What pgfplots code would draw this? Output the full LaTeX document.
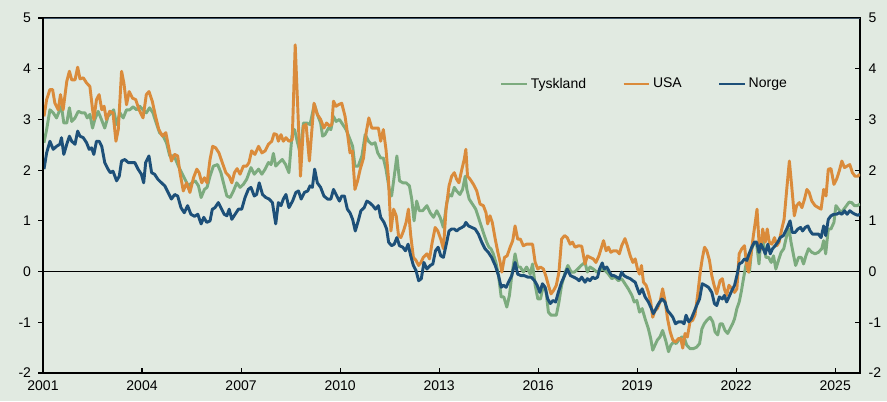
\documentclass[border=0pt]{standalone}
\usepackage{fontspec}
\setmainfont{Liberation Sans}
\usepackage{pgfplots}
\pgfplotsset{compat=1.18}
\definecolor{bg}{HTML}{E1EAE1}
\definecolor{tys}{HTML}{7CAB7E}
\definecolor{usa}{HTML}{DA8B3B}
\definecolor{nor}{HTML}{1D5079}
\definecolor{topline}{HTML}{3E5468}
\begin{document}
\begin{tikzpicture}
\fill[bg] (0,0) rectangle (665.25pt,300.75pt);
\useasboundingbox (0,0) rectangle (665.25pt,300.75pt);
\pgfplotsset{
  common/.style={
    at={(32.25pt,21pt)}, anchor=south west,
    width=612.75pt, height=266.25pt, scale only axis,
    xmin=2001, xmax=2025.75, ymin=-2, ymax=5,
    xtick={2001,2004,...,2025}, ytick={-2,-1,...,5},
    /pgf/number format/assume math mode=true,
    /pgf/number format/1000 sep={},
    tick label style={font=\fontsize{10.5}{12}\selectfont, black},
    major tick length=3.5pt,
    tick style={black, line width=0.8pt},
    axis line style={black, line width=1pt},
  }
}
\begin{axis}[common,
  tick align=inside,
  xtick pos=bottom, ytick pos=right, yticklabel pos=right,
  yticklabel style={xshift=3pt},
  xticklabel style={yshift=-2pt},
  legend style={at={(0.554,0.814)}, anchor=west, draw=none, fill=none,
    font=\fontsize{10.5}{12}\selectfont, legend columns=3,
    /tikz/every even column/.append style={column sep=25pt},
    nodes={inner xsep=2pt}},
  legend image code/.code={\draw[#1] (0pt,0pt) -- (19pt,0pt);},
  every axis plot/.append style={line width=2.2pt, line join=round},
]
\draw[black, line width=0.8pt] (axis cs:2001,0) -- (axis cs:2025.75,0);
\addplot[tys] coordinates {
(2001.03,2.54)(2001.11,2.80)(2001.21,3.19)(2001.31,3.13)(2001.41,3.03)(2001.51,3.19)(2001.56,3.26)(2001.63,2.93)(2001.72,2.93)(2001.80,3.23)(2001.87,2.96)(2001.97,3.03)
(2002.07,3.16)(2002.17,3.13)(2002.27,3.13)(2002.34,3.03)(2002.42,3.10)(2002.50,2.83)(2002.57,3.00)(2002.67,3.16)(2002.77,3.00)(2002.87,2.83)(2002.97,3.06)
(2003.07,3.13)(2003.14,3.19)(2003.23,2.90)(2003.33,3.13)(2003.43,3.03)(2003.53,3.19)(2003.63,3.19)(2003.73,3.25)(2003.83,3.19)(2003.93,3.26)
(2004.03,3.19)(2004.13,3.13)(2004.23,3.23)(2004.33,3.13)(2004.43,2.93)(2004.53,2.74)(2004.64,2.67)(2004.74,2.54)(2004.84,2.28)(2004.94,2.28)
(2005.00,2.24)(2005.10,2.08)(2005.20,1.95)(2005.30,1.82)(2005.40,1.69)(2005.51,1.75)(2005.61,1.79)(2005.71,1.69)(2005.79,1.46)(2005.89,1.62)(2005.97,1.66)
(2006.06,1.88)(2006.16,2.08)(2006.29,2.11)(2006.39,1.95)(2006.49,1.69)(2006.57,1.49)(2006.67,1.46)(2006.77,1.59)(2006.87,1.75)(2006.97,1.66)
(2007.07,1.72)(2007.17,1.82)(2007.30,2.05)(2007.40,1.92)(2007.53,2.02)(2007.63,1.92)(2007.73,2.02)(2007.83,2.15)(2007.91,2.11)(2007.98,2.33)
(2008.05,2.08)(2008.15,2.15)(2008.25,2.21)(2008.35,2.11)(2008.45,1.95)(2008.54,2.67)(2008.62,2.80)(2008.70,2.57)(2008.79,2.34)(2008.89,2.93)(2008.99,2.93)
(2009.09,2.90)(2009.22,3.30)(2009.31,3.10)(2009.41,2.93)(2009.47,2.67)(2009.54,2.70)(2009.65,2.83)(2009.72,2.80)(2009.80,3.06)(2009.88,2.96)(2009.98,3.00)
(2010.08,2.90)(2010.18,2.80)(2010.28,2.64)(2010.38,2.47)(2010.45,2.08)(2010.55,2.08)(2010.66,2.28)(2010.76,2.70)(2010.86,2.57)(2010.96,2.51)
(2011.06,2.54)(2011.14,2.34)(2011.23,2.24)(2011.31,2.24)(2011.39,2.02)(2011.49,1.62)(2011.56,1.49)(2011.64,1.88)(2011.72,2.28)(2011.80,1.79)(2011.90,1.75)
(2012.00,1.75)(2012.10,1.69)(2012.17,1.43)(2012.24,1.00)(2012.32,1.39)(2012.40,1.20)(2012.50,1.20)(2012.63,1.30)(2012.73,1.16)(2012.83,1.07)(2012.93,1.20)
(2013.03,1.07)(2013.13,0.87)(2013.23,1.35)(2013.30,1.52)(2013.38,1.49)(2013.46,1.66)(2013.53,1.59)(2013.63,1.52)(2013.71,1.62)(2013.79,1.88)(2013.84,1.62)(2013.91,1.43)
(2014.01,1.33)(2014.11,1.23)(2014.19,1.07)(2014.29,0.87)(2014.37,0.71)(2014.44,0.58)(2014.51,0.48)(2014.57,0.45)(2014.64,0.35)(2014.72,0.18)(2014.80,-0.08)(2014.88,-0.50)(2014.96,-0.50)
(2015.05,-0.70)(2015.13,-0.47)(2015.20,-0.08)(2015.30,0.35)(2015.38,0.09)(2015.46,0.09)(2015.55,-0.01)(2015.65,0.09)(2015.76,-0.05)(2015.83,0.15)(2015.91,-0.27)(2015.99,-0.54)
(2016.07,-0.54)(2016.16,-0.27)(2016.23,-0.34)(2016.31,-0.80)(2016.39,-0.86)(2016.47,-0.86)(2016.55,-0.86)(2016.63,-0.60)(2016.71,-0.27)(2016.82,-0.01)(2016.90,0.12)
(2017.00,-0.01)(2017.10,-0.01)(2017.20,0.05)(2017.30,0.12)(2017.42,0.18)(2017.49,-0.01)(2017.57,0.09)(2017.67,0.05)(2017.78,-0.01)(2017.86,0.02)(2017.94,0.05)
(2018.03,0.02)(2018.13,-0.05)(2018.23,-0.14)(2018.33,-0.11)(2018.43,-0.18)(2018.53,-0.14)(2018.63,-0.24)(2018.73,-0.34)(2018.84,-0.47)(2018.91,-0.60)(2018.99,-0.57)
(2019.07,-0.80)(2019.15,-0.73)(2019.24,-0.93)(2019.34,-1.13)(2019.41,-1.32)(2019.47,-1.55)(2019.54,-1.45)(2019.61,-1.35)(2019.69,-1.29)(2019.77,-1.16)(2019.86,-1.35)(2019.95,-1.58)
(2020.02,-1.45)(2020.10,-1.39)(2020.18,-1.42)(2020.26,-1.35)(2020.35,-1.29)(2020.42,-1.29)(2020.50,-1.45)(2020.60,-1.52)(2020.70,-1.52)(2020.80,-1.49)(2020.89,-1.42)(2020.96,-1.13)
(2021.03,-1.03)(2021.11,-0.96)(2021.21,-0.90)(2021.29,-0.99)(2021.36,-1.19)(2021.44,-1.25)(2021.51,-1.03)(2021.58,-1.03)(2021.66,-1.16)(2021.74,-1.22)(2021.81,-1.13)(2021.89,-1.03)(2021.95,-0.93)
(2022.02,-0.73)(2022.09,-0.60)(2022.15,-0.41)(2022.22,-0.14)(2022.29,0.12)(2022.35,0.28)(2022.40,-0.01)(2022.47,0.45)(2022.55,0.58)(2022.62,0.54)(2022.69,0.15)(2022.75,0.64)(2022.82,0.58)(2022.90,0.28)(2022.98,0.28)
(2023.06,0.18)(2023.13,0.31)(2023.20,0.05)(2023.28,0.22)(2023.36,0.38)(2023.44,0.45)(2023.53,0.71)(2023.60,0.84)(2023.66,0.58)(2023.74,0.31)(2023.80,0.12)(2023.89,0.28)(2023.97,0.28)
(2024.04,0.15)(2024.11,0.31)(2024.19,0.45)(2024.29,0.38)(2024.39,0.35)(2024.49,0.38)(2024.59,0.45)(2024.65,0.61)(2024.71,0.35)(2024.79,0.84)(2024.87,0.84)(2024.96,0.97)
(2025.02,1.30)(2025.10,1.23)(2025.18,1.16)(2025.26,1.23)(2025.34,1.30)(2025.42,1.37)(2025.50,1.36)(2025.58,1.30)(2025.66,1.30)(2025.75,1.33)
};
\addlegendentry{Tyskland}
\addplot[usa] coordinates {
(2001.03,3.06)(2001.11,3.39)(2001.21,3.59)(2001.29,3.59)(2001.36,3.32)(2001.46,3.19)(2001.53,3.49)(2001.61,3.19)(2001.72,3.75)(2001.80,3.95)(2001.87,3.78)(2001.97,3.78)
(2002.05,4.03)(2002.12,3.80)(2002.22,3.82)(2002.32,3.72)(2002.42,3.65)(2002.49,3.26)(2002.54,3.00)(2002.62,3.39)(2002.70,3.49)(2002.78,3.19)(2002.85,3.26)(2002.92,3.00)
(2003.02,3.16)(2003.12,3.13)(2003.21,2.57)(2003.28,2.80)(2003.38,3.95)(2003.45,3.72)(2003.53,3.29)(2003.61,3.55)(2003.71,3.42)(2003.81,3.39)(2003.91,3.19)
(2004.03,3.03)(2004.13,3.49)(2004.21,3.55)(2004.31,3.36)(2004.41,3.06)(2004.51,2.80)(2004.62,2.67)(2004.72,2.74)(2004.82,2.41)(2004.89,2.18)(2004.99,2.31)
(2005.08,2.28)(2005.15,1.95)(2005.25,1.59)(2005.35,1.75)(2005.45,1.56)(2005.56,1.85)(2005.66,2.02)(2005.73,1.95)(2005.81,1.75)(2005.89,1.85)(2005.97,1.75)
(2006.06,2.21)(2006.14,2.47)(2006.23,2.44)(2006.33,2.34)(2006.43,2.15)(2006.54,1.95)(2006.64,1.88)(2006.72,1.75)(2006.80,1.95)(2006.88,2.03)(2006.97,1.92)
(2007.07,2.08)(2007.17,2.08)(2007.24,2.15)(2007.32,2.38)(2007.42,2.31)(2007.53,2.47)(2007.63,2.34)(2007.73,2.38)(2007.83,2.51)(2007.93,2.57)
(2008.00,2.72)(2008.08,2.70)(2008.13,2.57)(2008.21,2.70)(2008.28,2.57)(2008.36,2.64)(2008.45,2.57)(2008.55,2.60)(2008.64,4.47)(2008.72,3.19)(2008.80,1.88)(2008.89,2.87)(2008.97,2.90)
(2009.07,2.18)(2009.21,3.32)(2009.31,3.10)(2009.41,3.00)(2009.51,2.83)(2009.59,2.93)(2009.68,2.87)(2009.75,2.90)(2009.80,3.36)(2009.88,3.26)(2009.95,3.29)
(2010.05,3.32)(2010.15,3.06)(2010.22,2.74)(2010.30,2.34)(2010.37,2.38)(2010.45,1.62)(2010.53,1.79)(2010.61,2.02)(2010.71,2.24)(2010.79,2.74)(2010.87,3.03)(2010.96,2.83)
(2011.06,2.83)(2011.16,2.83)(2011.23,2.57)(2011.31,2.80)(2011.39,2.41)(2011.46,1.88)(2011.54,0.80)(2011.62,1.23)(2011.70,1.10)(2011.77,0.71)(2011.84,0.67)(2011.92,0.80)
(2012.00,0.97)(2012.07,1.23)(2012.14,0.71)(2012.22,0.28)(2012.30,0.22)(2012.38,0.12)(2012.45,0.18)(2012.52,0.28)(2012.63,0.35)(2012.71,0.25)(2012.78,0.54)(2012.88,0.87)(2012.96,0.80)
(2013.05,0.64)(2013.13,0.45)(2013.21,1.23)(2013.30,1.69)(2013.38,1.88)(2013.46,1.95)(2013.53,1.82)(2013.60,1.75)(2013.69,2.02)(2013.76,2.21)(2013.81,2.41)(2013.86,1.88)(2013.94,1.82)
(2014.04,1.72)(2014.14,1.59)(2014.24,1.33)(2014.34,1.30)(2014.42,1.16)(2014.47,0.94)(2014.54,1.10)(2014.61,0.97)(2014.70,0.64)(2014.78,0.38)(2014.85,0.18)(2014.90,-0.01)(2014.98,0.28)
(2015.06,0.31)(2015.15,0.48)(2015.23,0.61)(2015.30,0.90)(2015.38,0.64)(2015.46,0.64)(2015.55,0.51)(2015.65,0.54)(2015.76,0.54)(2015.83,0.54)(2015.91,0.18)(2015.99,0.05)
(2016.07,0.09)(2016.16,0.05)(2016.23,-0.08)(2016.31,-0.27)(2016.39,-0.44)(2016.47,-0.37)(2016.55,-0.27)(2016.63,-0.01)(2016.71,0.64)(2016.80,0.71)(2016.88,0.67)(2016.97,0.54)
(2017.04,0.58)(2017.12,0.48)(2017.22,0.51)(2017.32,0.50)(2017.42,0.15)(2017.49,0.31)(2017.57,0.28)(2017.67,0.25)(2017.75,0.18)(2017.84,0.31)(2017.92,0.48)(2017.98,0.61)
(2018.06,0.41)(2018.13,0.48)(2018.20,0.38)(2018.28,0.41)(2018.38,0.41)(2018.46,0.35)(2018.53,0.51)(2018.63,0.65)(2018.70,0.51)(2018.79,0.31)(2018.87,0.18)(2018.94,0.25)
(2019.01,0.05)(2019.07,-0.05)(2019.13,0.12)(2019.19,-0.21)(2019.27,-0.27)(2019.34,-0.41)(2019.41,-0.60)(2019.47,-0.90)(2019.54,-0.77)(2019.61,-0.73)(2019.69,-0.60)(2019.77,-0.34)(2019.85,-0.60)(2019.92,-0.93)
(2020.00,-1.19)(2020.08,-1.35)(2020.16,-1.39)(2020.25,-1.32)(2020.32,-1.32)(2020.38,-1.51)(2020.45,-1.22)(2020.52,-1.29)(2020.60,-0.99)(2020.68,-0.96)(2020.75,-0.86)(2020.83,-0.47)(2020.91,-0.01)(2020.97,0.25)
(2021.04,0.48)(2021.11,0.41)(2021.19,0.22)(2021.26,-0.08)(2021.33,-0.27)(2021.41,-0.44)(2021.51,-0.18)(2021.58,-0.14)(2021.64,-0.34)(2021.71,-0.47)(2021.78,-0.27)(2021.87,-0.34)(2021.95,-0.41)
(2022.02,-0.34)(2022.09,0.35)(2022.17,0.45)(2022.25,0.51)(2022.32,0.12)(2022.37,-0.01)(2022.44,0.31)(2022.52,0.71)(2022.59,1.03)(2022.63,1.23)(2022.69,0.58)(2022.75,0.45)(2022.80,0.84)(2022.88,0.58)(2022.94,0.84)
(2023.00,0.58)(2023.08,0.54)(2023.16,0.67)(2023.23,0.51)(2023.30,0.58)(2023.38,0.84)(2023.45,1.03)(2023.53,1.62)(2023.61,2.18)(2023.68,1.69)(2023.76,1.10)(2023.83,1.30)(2023.91,1.36)(2023.99,1.26)
(2024.07,1.43)(2024.14,1.62)(2024.21,1.56)(2024.29,1.39)(2024.39,1.30)(2024.49,1.26)(2024.57,1.23)(2024.65,1.62)(2024.72,1.49)(2024.79,2.02)(2024.87,2.03)(2024.96,1.72)
(2025.04,1.82)(2025.12,1.98)(2025.20,2.18)(2025.28,2.05)(2025.36,2.08)(2025.44,2.11)(2025.52,1.95)(2025.60,1.88)(2025.68,1.88)(2025.75,1.92)
};
\addlegendentry{USA}
\addplot[nor] coordinates {
(2001.03,2.02)(2001.11,2.34)(2001.21,2.57)(2001.31,2.41)(2001.41,2.47)(2001.51,2.51)(2001.56,2.64)(2001.63,2.31)(2001.72,2.51)(2001.80,2.67)(2001.87,2.57)(2001.97,2.51)
(2002.05,2.77)(2002.12,2.67)(2002.22,2.64)(2002.32,2.54)(2002.40,2.41)(2002.47,2.44)(2002.54,2.31)(2002.62,2.57)(2002.70,2.57)(2002.78,2.47)(2002.87,2.15)(2002.97,2.02)
(2003.04,1.95)(2003.12,1.98)(2003.23,1.79)(2003.31,1.88)(2003.38,2.18)(2003.48,2.21)(2003.58,2.15)(2003.68,2.15)(2003.78,2.15)(2003.88,2.02)(2003.98,1.92)
(2004.05,1.75)(2004.11,2.15)(2004.21,2.28)(2004.29,1.95)(2004.38,1.92)(2004.48,1.82)(2004.59,1.75)(2004.69,1.69)(2004.79,1.56)(2004.89,1.43)(2004.99,1.52)
(2005.08,1.49)(2005.18,1.26)(2005.28,1.16)(2005.38,1.30)(2005.48,1.13)(2005.59,1.09)(2005.69,1.13)(2005.79,0.94)(2005.87,1.07)(2005.96,0.97)
(2006.06,1.00)(2006.13,1.23)(2006.21,1.26)(2006.31,1.36)(2006.39,1.26)(2006.49,1.13)(2006.57,1.10)(2006.64,1.23)(2006.72,1.03)(2006.82,1.13)(2006.92,1.23)
(2007.02,1.23)(2007.12,1.46)(2007.22,1.62)(2007.30,1.66)(2007.40,1.49)(2007.47,1.52)(2007.55,1.75)(2007.65,1.52)(2007.75,1.46)(2007.85,1.43)(2007.95,1.36)
(2008.05,0.94)(2008.13,1.36)(2008.21,1.30)(2008.28,1.43)(2008.36,1.52)(2008.45,1.26)(2008.56,1.39)(2008.66,1.56)(2008.74,1.59)(2008.82,1.43)(2008.92,1.56)
(2009.02,1.59)(2009.09,1.69)(2009.16,1.66)(2009.23,2.02)(2009.31,1.75)(2009.41,1.66)(2009.51,1.49)(2009.62,1.43)(2009.72,1.43)(2009.80,1.62)(2009.90,1.49)(2009.98,1.39)
(2010.05,1.49)(2010.13,1.49)(2010.22,1.23)(2010.30,1.16)(2010.38,1.03)(2010.46,0.80)(2010.55,1.00)(2010.63,1.20)(2010.73,1.26)(2010.81,1.39)(2010.89,1.36)(2010.99,1.30)
(2011.07,1.23)(2011.16,1.30)(2011.23,1.07)(2011.33,0.97)(2011.41,0.84)(2011.47,0.58)(2011.56,0.51)(2011.64,0.54)(2011.72,0.67)(2011.80,0.51)(2011.90,0.48)(2011.98,0.41)
(2012.06,0.54)(2012.14,0.31)(2012.22,0.12)(2012.30,0.02)(2012.38,-0.18)(2012.46,-0.14)(2012.54,0.18)(2012.63,0.05)(2012.73,0.12)(2012.81,0.15)(2012.89,0.41)(2012.97,0.48)
(2013.05,0.31)(2013.13,0.28)(2013.23,0.58)(2013.30,0.80)(2013.38,0.84)(2013.46,0.84)(2013.53,0.80)(2013.60,0.84)(2013.69,0.87)(2013.76,0.90)(2013.81,0.97)(2013.89,0.90)(2013.99,0.87)
(2014.09,0.84)(2014.19,0.74)(2014.29,0.58)(2014.39,0.45)(2014.49,0.38)(2014.59,0.28)(2014.70,0.12)(2014.80,-0.08)(2014.88,-0.31)(2014.95,-0.27)
(2015.03,-0.31)(2015.10,-0.21)(2015.20,-0.08)(2015.30,0.18)(2015.38,-0.05)(2015.48,-0.08)(2015.58,-0.08)(2015.69,-0.11)(2015.79,-0.11)(2015.89,-0.18)(2015.97,-0.27)
(2016.05,-0.41)(2016.13,-0.24)(2016.21,-0.31)(2016.29,-0.54)(2016.37,-0.63)(2016.45,-0.57)(2016.53,-0.60)(2016.61,-0.41)(2016.71,-0.21)(2016.80,-0.08)(2016.88,0.05)(2016.98,-0.08)
(2017.08,-0.11)(2017.17,-0.14)(2017.24,-0.18)(2017.32,-0.11)(2017.42,-0.21)(2017.49,-0.14)(2017.57,-0.18)(2017.65,-0.11)(2017.72,-0.14)(2017.80,-0.11)(2017.86,0.05)(2017.94,0.17)
(2018.00,0.05)(2018.08,0.09)(2018.16,-0.01)(2018.23,-0.08)(2018.30,-0.08)(2018.38,-0.11)(2018.46,-0.14)(2018.53,-0.01)(2018.60,-0.08)(2018.68,-0.11)(2018.79,-0.14)(2018.87,-0.18)(2018.94,-0.21)
(2019.01,-0.34)(2019.07,-0.44)(2019.15,-0.34)(2019.24,-0.50)(2019.34,-0.60)(2019.41,-0.70)(2019.49,-0.83)(2019.57,-0.73)(2019.65,-0.63)(2019.75,-0.54)(2019.84,-0.60)(2019.92,-0.77)
(2020.00,-0.83)(2020.08,-0.90)(2020.16,-1.03)(2020.25,-0.99)(2020.35,-0.99)(2020.42,-1.03)(2020.48,-0.86)(2020.56,-0.99)(2020.64,-0.93)(2020.72,-0.80)(2020.80,-0.67)(2020.89,-0.54)(2020.97,-0.24)
(2021.06,-0.27)(2021.16,-0.31)(2021.26,-0.41)(2021.34,-0.63)(2021.41,-0.67)(2021.49,-0.50)(2021.58,-0.54)(2021.64,-0.47)(2021.71,-0.60)(2021.78,-0.50)(2021.87,-0.37)(2021.95,-0.27)
(2022.02,-0.08)(2022.09,0.15)(2022.17,0.18)(2022.25,0.25)(2022.32,0.22)(2022.39,0.35)(2022.47,0.48)(2022.55,0.58)(2022.62,0.58)(2022.69,0.38)(2022.75,0.54)(2022.82,0.45)(2022.88,0.35)(2022.96,0.54)
(2023.03,0.35)(2023.10,0.45)(2023.18,0.51)(2023.26,0.58)(2023.33,0.67)(2023.43,0.71)(2023.53,0.84)(2023.63,1.00)(2023.70,0.77)(2023.78,0.77)(2023.87,0.84)(2023.95,0.87)
(2024.01,0.80)(2024.09,0.87)(2024.17,0.90)(2024.24,0.80)(2024.31,0.74)(2024.39,0.74)(2024.49,0.74)(2024.57,0.67)(2024.65,0.90)(2024.71,0.71)(2024.79,1.03)(2024.87,1.10)(2024.96,1.13)
(2025.04,1.13)(2025.12,1.16)(2025.20,1.13)(2025.28,1.20)(2025.36,1.13)(2025.44,1.20)(2025.52,1.16)(2025.60,1.13)(2025.68,1.11)(2025.75,1.13)
};
\addlegendentry{Norge}
\draw[topline, line width=1.1pt] (rel axis cs:0,1) -- (rel axis cs:1,1);
\end{axis}
\begin{axis}[common,
  tick align=outside,
  axis x line=none, axis y line*=left,
  ytick pos=left, yticklabel pos=left,
  yticklabel style={xshift=-2pt},
]
\end{axis}
\end{tikzpicture}
\end{document}
